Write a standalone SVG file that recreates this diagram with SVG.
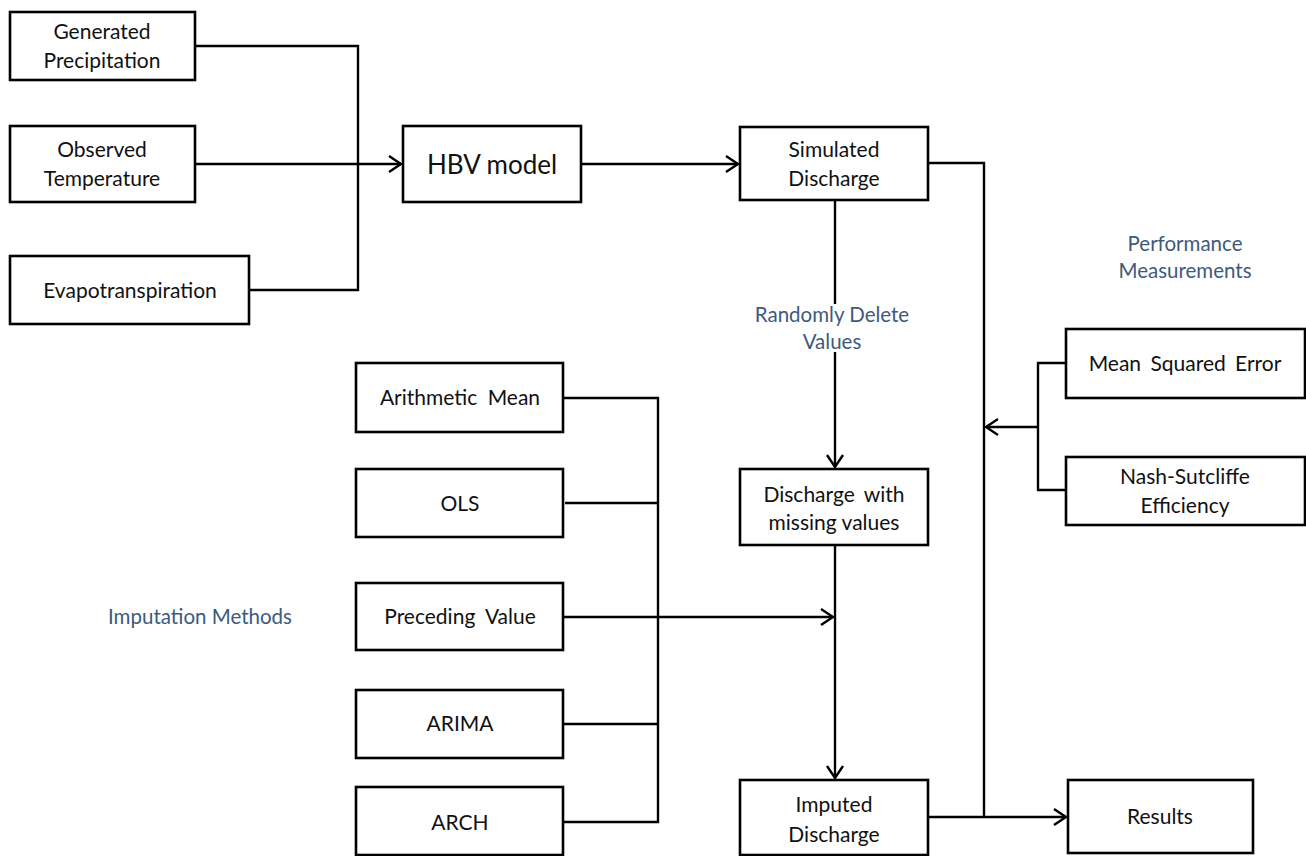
<svg xmlns="http://www.w3.org/2000/svg" width="1306" height="856" viewBox="0 0 1306 856">
<defs>
<marker id="arr" markerUnits="userSpaceOnUse" markerWidth="14" markerHeight="18" viewBox="0 0 14 18" refX="13" refY="9" orient="auto">
<path d="M1,1 L13,9 L1,17" fill="none" stroke="#000" stroke-width="2.4"/>
</marker>
<style>
.box{fill:#fff;stroke:#000;stroke-width:2.6}
.t{font-family:Lato,"Open Sans","Liberation Sans",sans-serif;font-size:21px;fill:#111;text-anchor:middle}
.lab{font-family:Lato,"Open Sans","Liberation Sans",sans-serif;font-size:20.5px;fill:#3e5a7c;text-anchor:middle}
.c{fill:none;stroke:#000;stroke-width:2.4}
</style>
</defs>
<rect width="1306" height="856" fill="#fff"/>
<g id="connectors">
<path class="c" d="M195,46 H358 V290 H249"/>
<path class="c" d="M195,164 H401" marker-end="url(#arr)"/>
<path class="c" d="M581,164 H738" marker-end="url(#arr)"/>
<path class="c" d="M928,163 H984 V817"/>
<path class="c" d="M835,200 V467" marker-end="url(#arr)"/>
<path class="c" d="M835,545 V778" marker-end="url(#arr)"/>
<path class="c" d="M563,398 H658 V822 H563"/>
<path class="c" d="M565,503 H658"/>
<path class="c" d="M563,724 H658"/>
<path class="c" d="M563,617 H833" marker-end="url(#arr)"/>
<path class="c" d="M928,817 H1066" marker-end="url(#arr)"/>
<path class="c" d="M1066,363 H1038 V490 H1066"/>
<path class="c" d="M1038,427 H986" marker-end="url(#arr)"/>
</g>
<g id="n-precip"><rect class="box" x="10" y="12" width="185" height="68"/><text class="t" x="102" y="39">Generated</text><text class="t" x="102" y="68">Precipitation</text></g>
<g id="n-temp"><rect class="box" x="10" y="126" width="185" height="76"/><text class="t" x="102" y="157">Observed</text><text class="t" x="102" y="186">Temperature</text></g>
<g id="n-evap"><rect class="box" x="10" y="256" width="239" height="68"/><text class="t" x="130" y="298">Evapotranspiration</text></g>
<g id="n-hbv"><rect class="box" x="403" y="126" width="178" height="76"/><text class="t" x="492" y="174" style="font-size:26px">HBV model</text></g>
<g id="n-sim"><rect class="box" x="740" y="127" width="188" height="73"/><text class="t" x="834" y="157">Simulated</text><text class="t" x="834" y="186">Discharge</text></g>
<g id="n-missing"><rect class="box" x="740" y="469" width="188" height="76"/><text class="t" x="834" y="502" word-spacing="4">Discharge with</text><text class="t" x="834" y="530">missing values</text></g>
<g id="n-imputed"><rect class="box" x="740" y="780" width="188" height="75"/><text class="t" x="834" y="812">Imputed</text><text class="t" x="834" y="842">Discharge</text></g>
<g id="n-results"><rect class="box" x="1068" y="780" width="185" height="73"/><text class="t" x="1160" y="824">Results</text></g>
<g id="n-mse"><rect class="box" x="1066" y="329" width="239" height="69"/><text class="t" x="1185" y="371" word-spacing="4">Mean Squared Error</text></g>
<g id="n-nse"><rect class="box" x="1066" y="457" width="239" height="68"/><text class="t" x="1185" y="484">Nash-Sutcliffe</text><text class="t" x="1185" y="513">Efficiency</text></g>
<g id="n-am"><rect class="box" x="356" y="363" width="207" height="69"/><text class="t" x="460" y="405" word-spacing="5">Arithmetic Mean</text></g>
<g id="n-ols"><rect class="box" x="356" y="469" width="207" height="68"/><text class="t" x="460" y="511">OLS</text></g>
<g id="n-pv"><rect class="box" x="356" y="583" width="207" height="67"/><text class="t" x="460" y="624" word-spacing="5">Preceding Value</text></g>
<g id="n-arima"><rect class="box" x="356" y="690" width="207" height="68"/><text class="t" x="460" y="731">ARIMA</text></g>
<g id="n-arch"><rect class="box" x="356" y="787" width="207" height="68"/><text class="t" x="460" y="830">ARCH</text></g>
<g id="labels">
<text class="lab" x="1185" y="251">Performance</text><text class="lab" x="1185" y="278">Measurements</text>
<rect x="752" y="304" width="162" height="48" fill="#fff"/>
<text class="lab" x="832" y="322">Randomly Delete</text><text class="lab" x="832" y="349">Values</text>
<text class="lab" x="200" y="624">Imputation Methods</text>
</g>
</svg>
